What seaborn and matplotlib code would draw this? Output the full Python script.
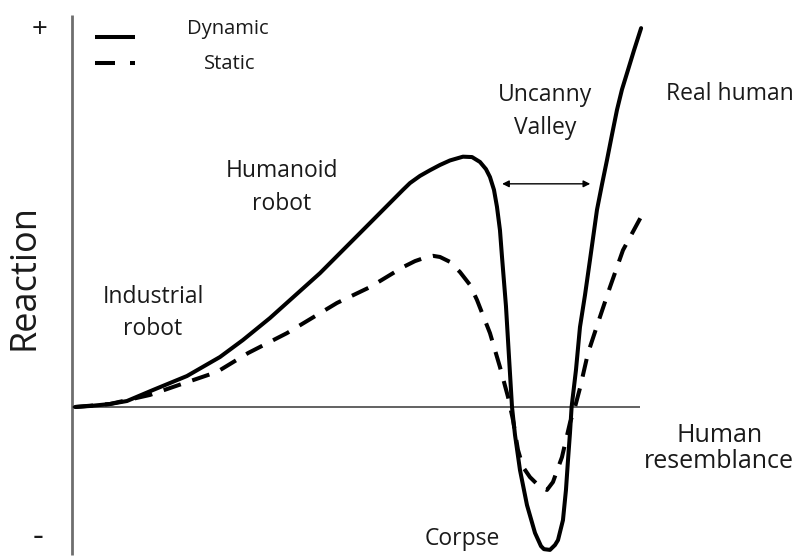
import numpy as np
import pandas as pd
import matplotlib
matplotlib.use("Agg")
import matplotlib.pyplot as plt
import seaborn as sns

# Human resemblance (0-100) vs reaction (+100 top, negative bottom)
resemblance_dynamic = [0, 2.65, 6.19, 9.20, 13.81, 19.82, 25.66, 29.73, 34.51, 43.36,
                       52.21, 58.05, 59.29, 61.06, 62.83, 64.60, 66.37, 68.67, 70.27,
                       71.68, 72.74, 73.45, 74.16, 74.69, 75.22, 75.58,
                       76.28, 76.81, 77.35, 77.88, 78.76, 80.00, 81.42, 82.48, 83.00,
                       84.07, 84.96, 85.49, 86.37, 86.90, 87.26, 87.61, 87.90, 88.67,
                       89.38, 90.27, 91.15, 92.39, 93.27, 94.16, 95.04, 95.93, 96.81,
                       97.88, 98.94, 100.2]
reaction_dynamic = [0, 0.27, 0.80, 1.59, 4.51, 8.22, 13.26, 17.77, 23.6, 35.5,
                    48.8, 57.6, 59.4, 61.3, 62.8, 64.2, 65.4, 66.4, 66.3,
                    65.0, 63.1, 61.0, 57.6, 53.1, 46.9, 39.8,
                    26.8, 13.5, 0, -7.4, -16.7, -26.0, -33.4, -36.9, -37.7,
                    -37.9, -36.6, -35.3, -30.0, -22.0, -14.1, -6.9, 0, 9.8,
                    21.2, 29.7, 39.0, 52.3, 59.0, 65.5, 72.2, 78.8, 84.2,
                    89.4, 94.6, 100.5]

resemblance_static = [0, 6.19, 13.27, 19.47, 25.13, 30.62, 37.52, 46.37, 52.21, 58.05,
                      60.18, 62.30, 63.36, 64.60, 66.37, 68.14, 69.91, 71.15, 73.45,
                      75.22, 76.64, 77.52, 78.41, 79.29, 80.53, 82.30, 83.54, 84.60,
                      86.19, 87.61, 88.50, 89.38, 90.80, 92.92, 94.69, 96.99, 100.35]
reaction_static = [0, 0.8, 3.2, 6.4, 9.3, 14.3, 19.6, 27.6, 31.8, 37.1,
                   38.7, 39.8, 40.1, 39.8, 38.5, 35.8, 32.4, 28.4, 19.6,
                   10.6, 2.7, -3.4, -11.4, -15.9, -18.6, -21.2, -22.0, -19.9,
                   -13.3, -4.2, 0, 5.0, 14.3, 23.9, 31.8, 41.6, 50.9]

series_names = ["Dynamic", "Static"]

df = pd.concat([
    pd.DataFrame({"resemblance": resemblance_dynamic, "reaction": reaction_dynamic,
                  "type": series_names[0]}),
    pd.DataFrame({"resemblance": resemblance_static, "reaction": reaction_static,
                  "type": series_names[1]}),
], ignore_index=True)

sns.set_theme(style="white")
plt.rcParams['font.family'] = ['Open Sans', 'DejaVu Sans']

fig = plt.figure(figsize=(8.01, 5.58), dpi=100)
ax = fig.add_axes([0, 0, 1, 1])
ax.set_xlim(-13.27, 128.50)
ax.set_ylim(-40.05, 107.96)
ax.axis('off')

# axes lines
ax.vlines(-0.6, -39.3, 104, color='#6e6e6e', lw=2.0, zorder=1)
ax.hlines(0, -0.6, 100, color='#555555', lw=1.3, zorder=1)

sns.lineplot(data=df, x="resemblance", y="reaction", style="type",
             dashes={"Dynamic": "", "Static": (4.5, 3.0)},
             color="black", linewidth=2.9, sort=False, estimator=None,
             legend=False, ax=ax, zorder=3,
             solid_joinstyle='round', dash_joinstyle='round')

# legend glyphs
ax.plot([3.54, 10.62], [98.1, 98.1], color='black', lw=2.9, solid_capstyle='butt')
ax.plot([3.54, 7.08], [91.2, 91.2], color='black', lw=2.9, solid_capstyle='butt')
ax.plot([9.73, 10.62], [91.2, 91.2], color='black', lw=2.9, solid_capstyle='butt')

tc = '#1a1a1a'
fs = 16.5
ax.text(27.1, 98.9, "Dynamic", ha='center', va='baseline', fontsize=14.5, color=tc)
ax.text(27.3, 89.7, "Static", ha='center', va='baseline', fontsize=14.5, color=tc)

ax.text(36.6, 61.1, "Humanoid", ha='center', va='baseline', fontsize=fs, color=tc)
ax.text(36.6, 52.3, "robot", ha='center', va='baseline', fontsize=fs, color=tc)
ax.text(13.8, 27.7, "Industrial", ha='center', va='baseline', fontsize=fs, color=tc)
ax.text(13.8, 19.1, "robot", ha='center', va='baseline', fontsize=fs, color=tc)
ax.text(83.2, 81.2, "Uncanny", ha='center', va='baseline', fontsize=fs, color=tc)
ax.text(83.2, 72.4, "Valley", ha='center', va='baseline', fontsize=fs, color=tc)
ax.text(115.9, 81.4, "Real human", ha='center', va='baseline', fontsize=fs, color=tc)
ax.text(114.0, -9.3, "Human", ha='center', va='baseline', fontsize=18, color=tc)
ax.text(114.0, -16.2, "resemblance", ha='center', va='baseline', fontsize=18, color=tc)
ax.text(68.5, -36.6, "Corpse", ha='center', va='baseline', fontsize=fs, color=tc)

ax.text(-6.19, 100.0, "+", ha='center', va='center', fontsize=20, color=tc)
ax.text(-6.5, -34.5, "-", ha='center', va='center', fontsize=24, color=tc)
ax.text(-8.85, 34.5, "Reaction", ha='center', va='center', rotation=90,
        fontsize=26, color=tc)

ax.annotate('', xy=(75.6, 59.2), xytext=(91.2, 59.2),
            arrowprops=dict(arrowstyle='<|-|>', color='black', lw=1.0,
                            mutation_scale=10, shrinkA=0, shrinkB=0))

fig.savefig("out.png", dpi=100)
